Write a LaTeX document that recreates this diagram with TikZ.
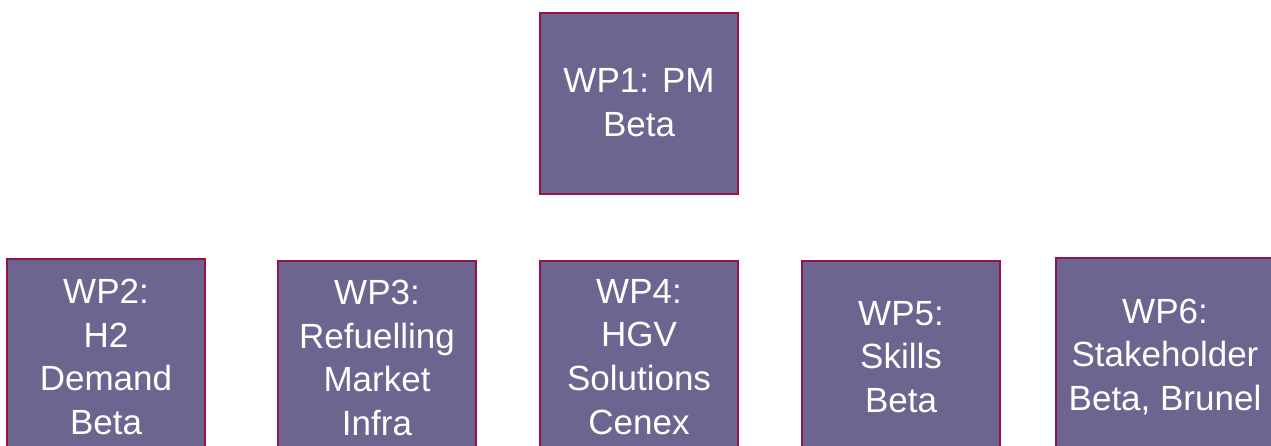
\documentclass[tikz,border=0pt]{standalone}
\usepackage{fontspec}
\setmainfont{Liberation Sans}
\definecolor{wpfill}{RGB}{110,100,144}
\definecolor{wpline}{RGB}{145,20,80}
\tikzset{
  wpbox/.style={draw=wpline, line width=1.6pt, fill=wpfill, inner sep=0pt,
    anchor=north, minimum width=198pt},
  wptext/.style={text=white, align=center, inner sep=0pt,
    font=\fontsize{35}{43.8}\selectfont}
}
\begin{document}
\begin{tikzpicture}[x=1pt,y=-1pt]
\useasboundingbox (0,0) rectangle (1271,445);
\clip (0,0) rectangle (1271,445);
\fill[white] (0,0) rectangle (1271,445);
% boxes
\node[wpbox, minimum height=181pt] (wp1) at (639,12) {};
\node[wpbox, minimum height=230pt] (wp2) at (106,258) {};
\node[wpbox, minimum height=230pt] (wp3) at (377,260) {};
\node[wpbox, minimum height=230pt] (wp4) at (639,260) {};
\node[wpbox, minimum height=230pt] (wp5) at (901,260) {};
\node[wpbox, minimum height=230pt, minimum width=218pt] (wp6) at (1165,257) {};
% labels
\node[wptext] (wp1t) at (639,103) {WP1: PM\\Beta};
\node[wptext] (wp2t) at (106,357) {WP2:\\H2\\Demand\\Beta};
\node[wptext] (wp3t) at (377,358) {WP3:\\Refuelling\\Market\\Infra};
\node[wptext] (wp4t) at (639,357) {WP4:\\HGV\\Solutions\\Cenex};
\node[wptext] (wp5t) at (901,357) {WP5:\\Skills\\Beta};
\node[wptext] (wp6t) at (1165,357) {WP6:\\Stakeholder\\Beta, Brunel};
\end{tikzpicture}
\end{document}
